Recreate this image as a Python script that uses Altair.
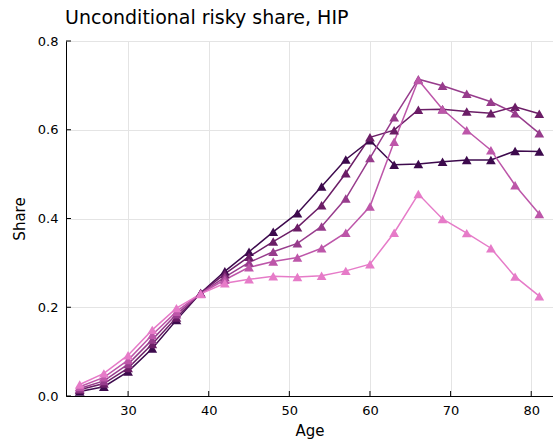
import altair as alt
import pandas as pd

ages = [24, 27, 30, 33, 36, 39, 42, 45, 48, 51, 54, 57, 60, 63, 66, 69, 72, 75, 78, 81]

s1 = [0.010, 0.021, 0.055, 0.107, 0.171, 0.232, 0.281, 0.325, 0.370, 0.412, 0.472, 0.533, 0.576, 0.521, 0.523, 0.528, 0.532, 0.532, 0.552, 0.551]
s2 = [0.014, 0.028, 0.063, 0.117, 0.177, 0.232, 0.275, 0.314, 0.348, 0.380, 0.430, 0.502, 0.583, 0.599, 0.645, 0.646, 0.641, 0.637, 0.652, 0.636]
s3 = [0.017, 0.034, 0.072, 0.127, 0.184, 0.231, 0.268, 0.301, 0.325, 0.344, 0.382, 0.445, 0.536, 0.628, 0.714, 0.699, 0.681, 0.663, 0.637, 0.592]
s4 = [0.021, 0.042, 0.081, 0.138, 0.190, 0.231, 0.262, 0.290, 0.303, 0.312, 0.333, 0.368, 0.427, 0.573, 0.712, 0.646, 0.599, 0.554, 0.475, 0.410]
s5 = [0.026, 0.051, 0.092, 0.149, 0.198, 0.230, 0.254, 0.263, 0.270, 0.268, 0.271, 0.282, 0.297, 0.368, 0.455, 0.399, 0.367, 0.333, 0.269, 0.225]

series_names = ["y1", "y2", "y3", "y4", "y5"]
series_vals = [s1, s2, s3, s4, s5]
colors = ["#3d0a4d", "#6b1d66", "#973c8c", "#bd56a9", "#e67bc8"]

y_ticks = [0.0, 0.2, 0.4, 0.6, 0.8]
x_ticks = [30, 40, 50, 60, 70, 80]

rows = []
for name, vals in zip(series_names, series_vals):
    for a, v in zip(ages, vals):
        rows.append({"Age": a, "Share": v, "series": name})
df = pd.DataFrame(rows)

font = "DejaVu Sans"
xscale = alt.Scale(domain=[22.3, 82.7], nice=False, zero=False)
yscale = alt.Scale(domain=[0, 0.8], nice=False, zero=True)
cscale = alt.Scale(domain=series_names, range=colors)

base = alt.Chart(df)

lines = base.mark_line(strokeWidth=1.5).encode(
    x=alt.X("Age:Q", scale=xscale,
            axis=alt.Axis(values=x_ticks, title="Age", grid=True, gridColor="#e4e4e4",
                          domainColor="black", tickSize=0, labelPadding=8,
                          labelFontSize=13, titleFontSize=15, titleFontWeight="normal",
                          labelFont=font, titleFont=font, labelColor="black", titleColor="black",
                          titlePadding=6)),
    y=alt.Y("Share:Q", scale=yscale,
            axis=alt.Axis(values=y_ticks, format=".1f", title="Share", grid=True, gridColor="#e4e4e4",
                          domainColor="black", tickSize=0, labelPadding=8,
                          labelFontSize=13, titleFontSize=15, titleFontWeight="normal",
                          labelFont=font, titleFont=font, labelColor="black", titleColor="black",
                          titlePadding=10)),
    color=alt.Color("series:N", scale=cscale, legend=None),
    detail="series:N",
)

points = base.mark_point(shape="triangle-up", filled=True, size=95, opacity=1).encode(
    x=alt.X("Age:Q", scale=xscale),
    y=alt.Y("Share:Q", scale=yscale),
    color=alt.Color("series:N", scale=cscale, legend=None),
)

ytick_df = pd.DataFrame({"v": y_ticks})
xtick_df = pd.DataFrame({"v": x_ticks})

yticks = alt.Chart(ytick_df).mark_rule(color="black", strokeWidth=1).encode(
    y=alt.Y("v:Q", scale=yscale), x=alt.value(0), x2=alt.value(5))
xticks = alt.Chart(xtick_df).mark_rule(color="black", strokeWidth=1).encode(
    x=alt.X("v:Q", scale=xscale), y=alt.value(355), y2=alt.value(350))

chart = alt.layer(lines, points, yticks, xticks).properties(
    width=487, height=355,
    title=alt.TitleParams("Unconditional risky share, HIP", anchor="start", frame="group",
                          fontSize=19, font=font, fontWeight="normal", color="black",
                          offset=7, dx=-1),
    autosize=alt.AutoSizeParams(type="none"),
    padding={"left": 66, "top": 41, "right": 0, "bottom": 50},
).configure_view(stroke=None).configure(background="white")

chart.save("out.html", embed_options={"renderer": "svg", "actions": False})
